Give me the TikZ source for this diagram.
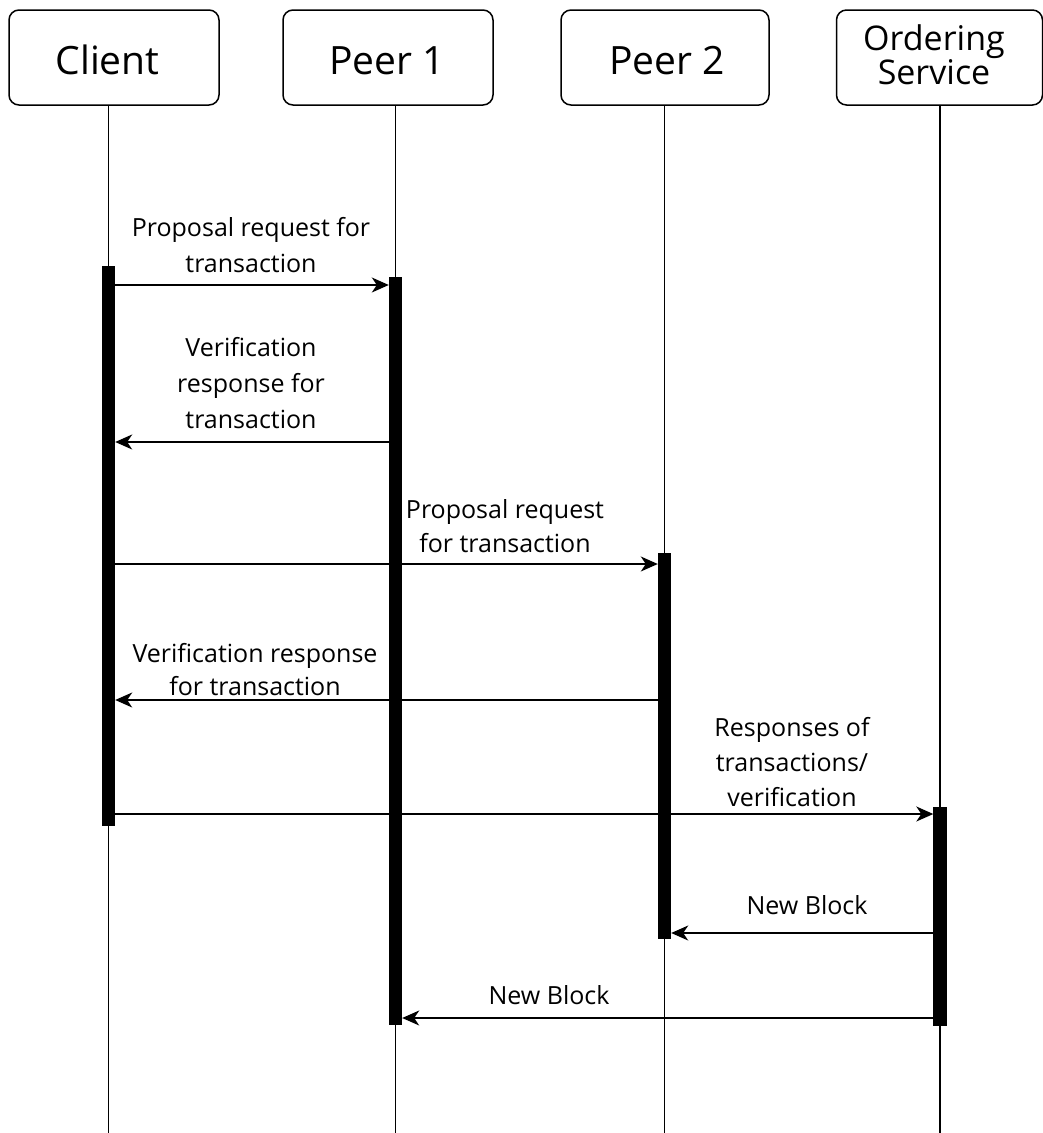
\documentclass[tikz,border=0pt]{standalone}
\usepackage{fontspec}
\setmainfont{Open Sans}
\usetikzlibrary{arrows.meta}
\begin{document}
\begin{tikzpicture}[x=1pt,y=-1pt,
  headbox/.style={draw, rounded corners=10pt, line width=1.5pt, minimum height=95pt, inner sep=0pt},
  life/.style={line width=1.6pt},
  actbar/.style={fill=black, draw=none, minimum width=13pt, inner sep=0pt},
  msg/.style={line width=1.6pt, -{Stealth[length=17pt,width=15pt,inset=5pt]}},
  lbl/.style={font=\fontsize{25}{36}\selectfont, align=center, inner sep=0pt, anchor=south},
  ttl/.style={font=\fontsize{39}{46}\selectfont, inner sep=0pt, anchor=base}]
\useasboundingbox (0,0) rectangle (1043,1133);
\coordinate (bottom) at (0,1133);
% header boxes
\node[headbox, minimum width=210pt] (cbox) at (114,57.5) {};
\node[headbox, minimum width=210pt] (p1box) at (388,57.5) {};
\node[headbox, minimum width=208pt] (p2box) at (665,57.5) {};
\node[headbox, minimum width=206pt] (obox) at (939.5,57.5) {};
\node[ttl] (ctxt) at (107.5,74) {Client};
\node[ttl] (p1txt) at (387,74) {Peer 1};
\node[ttl] (p2txt) at (667,74) {Peer 2};
\node[font=\fontsize{34}{28}\selectfont, align=center, inner sep=0pt, anchor=south] (otxt) at (934,85) {Ordering\\Service};
% activation bars
\node[actbar, minimum height=560pt] (cbar) at (108.5,546) {};
\node[actbar, minimum height=748pt] (p1bar) at (395.5,651) {};
\node[actbar, minimum height=386pt] (p2bar) at (664.5,746) {};
\node[actbar, minimum height=219pt] (obar) at (940,916.5) {};
% lifelines
\draw[life] (cbar |- cbox.south) -- (cbar |- bottom);
\draw[life] (p1bar |- p1box.south) -- (p1bar |- bottom);
\draw[life] (p2bar |- p2box.south) -- (p2bar |- bottom);
\draw[life] (obar |- obox.south) -- (obar |- bottom);
% bars on top of lifelines
\fill (cbar.north west) rectangle (cbar.south east);
\fill (p1bar.north west) rectangle (p1bar.south east);
\fill (p2bar.north west) rectangle (p2bar.south east);
\fill (obar.north west) rectangle (obar.south east);
% messages
\draw[msg] (cbar.east |- 0,285) -- (p1bar.west |- 0,285);
\node[lbl] (l1) at (251,273) {Proposal request for\\transaction};
\draw[msg] (p1bar.west |- 0,442) -- (cbar.east |- 0,442);
\node[lbl] (l2) at (251,428.5) {Verification\\response for\\transaction};
\draw[msg] (cbar.east |- 0,564) -- (p2bar.west |- 0,564);
\node[lbl, font=\fontsize{25}{34}\selectfont] (l3) at (505,553) {Proposal request\\for transaction};
\draw[msg] (p2bar.west |- 0,700) -- (cbar.east |- 0,700);
\node[lbl, font=\fontsize{25}{33}\selectfont] (l4) at (255,695.5) {Verification response\\for transaction};
\draw[msg] (cbar.east |- 0,814) -- (obar.west |- 0,814);
\node[lbl, font=\fontsize{25}{35}\selectfont] (l5) at (792,807) {Responses of\\transactions/\\verification};
\draw[msg] (obar.west |- 0,933) -- (p2bar.east |- 0,933);
\node[lbl] (l6) at (807,915) {New Block};
\draw[msg] (obar.west |- 0,1018) -- (p1bar.east |- 0,1018);
\node[lbl] (l7) at (549,1005) {New Block};
\end{tikzpicture}
\end{document}
